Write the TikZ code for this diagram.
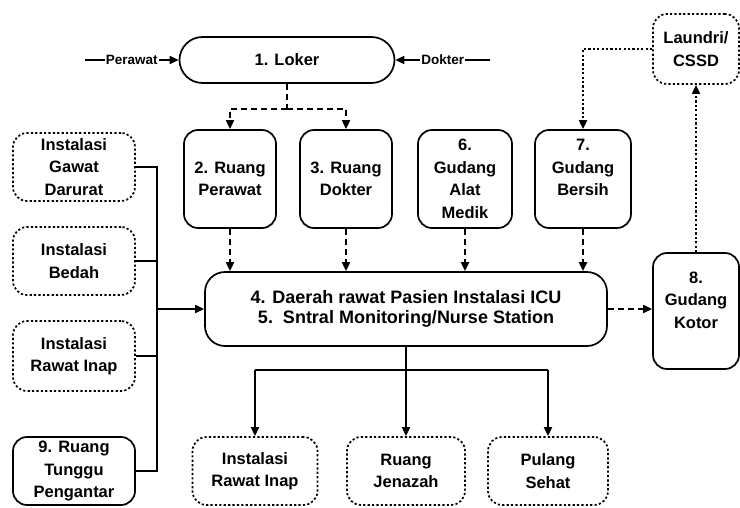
\documentclass[tikz,border=0pt]{standalone}
\usepackage{fontspec}
\setmainfont{Liberation Sans}
\usetikzlibrary{arrows.meta}

\begin{document}
\begin{tikzpicture}[x=1pt,y=-1pt,
  box/.style={draw, line width=1.7pt, rounded corners=14pt, align=center,
    font=\bfseries\fontsize{16.5}{22.5}\selectfont, inner sep=0pt},
  dotbox/.style={box, dash pattern=on 2.2pt off 2.2pt},
  link/.style={line width=1.8pt, line join=miter},
  dline/.style={link, dash pattern=on 6pt off 4pt},
  dotline/.style={link, dash pattern=on 2.2pt off 2.2pt},
  tip/.style={-{Triangle[length=9pt,width=8pt]}},
  side/.style={fill=white, inner sep=1pt, font=\bfseries\fontsize{13.5}{15}\selectfont}]
\useasboundingbox (0,0) rectangle (740,508);

% main rooms
\node[box, minimum width=215, minimum height=46, rounded corners=23pt] (loker) at (287,60) {1. Loker};
\node[box, minimum width=92, minimum height=98] (rp) at (230,179) {2. Ruang\\Perawat};
\node[box, minimum width=92, minimum height=98] (rd) at (346,179) {3. Ruang\\Dokter};
\node[box, minimum width=94, minimum height=98] (gam) at (465,179) {6.\\Gudang\\Alat\\Medik};
\node[box, minimum width=96, minimum height=98] (gb) at (583,179) {7.\\Gudang\\Bersih\\\mbox{}};
\node[box, minimum width=402, minimum height=74, rounded corners=20pt,
  font=\bfseries\fontsize{18}{20.5}\selectfont] (icu) at (406,309)
  {4. Daerah rawat Pasien Instalasi ICU\\5.\ \ Sntral Monitoring/Nurse Station};
\node[box, minimum width=86, minimum height=116] (gk) at (696,311) {8.\\Gudang\\Kotor\\\mbox{}};
\node[dotbox, minimum width=86, minimum height=70] (lc) at (696,49) {Laundri/\\CSSD};

% units around the ICU
\node[dotbox, minimum width=122, minimum height=68] (igd) at (74,167) {Instalasi\\Gawat\\Darurat};
\node[dotbox, minimum width=122, minimum height=68] (ib) at (74,261) {Instalasi\\Bedah};
\node[dotbox, minimum width=122, minimum height=70] (iri) at (74,356) {Instalasi\\Rawat Inap};
\node[box, minimum width=122, minimum height=68] (rt) at (74,471) {9. Ruang\\Tunggu\\Pengantar};
\node[dotbox, minimum width=125, minimum height=68] (bri) at (255,471) {Instalasi\\Rawat Inap};
\node[dotbox, minimum width=118, minimum height=68] (rj) at (406,471) {Ruang\\Jenazah};
\node[dotbox, minimum width=120, minimum height=68] (ps) at (548,471) {Pulang\\Sehat};

% entrances to the locker
\coordinate (pw) at (85,60);
\coordinate (dk) at (490,60);
\draw[link, tip] (pw) -- node[side] {Perawat} (loker.west);
\draw[link, tip] (dk) -- node[side] {Dokter} (loker.east);

% locker to staff rooms
\draw[dline] (loker.south) -- ++(0,25) coordinate (lk);
\draw[dline, tip] (lk) -| (rp.north);
\draw[dline, tip] (lk) -| (rd.north);

% rooms to the care area
\foreach \r in {rp,rd,gam,gb}
  \draw[dline, tip] (\r.south) -- (\r.south |- icu.north);

% dirty / clean flow
\draw[dline, tip] (icu.east) -- (icu.east -| gk.west);
\draw[dotline, tip] (gk.north) -- (lc.south);
\draw[dotline, tip] (lc.west) -| (gb.north);

% incoming patients
\coordinate (bx) at (157,0);
\draw[link] (igd.east) -- (igd.east -| bx) -- (rt.east -| bx) -- (rt.east);
\draw[link] (ib.east) -- (ib.east -| bx);
\draw[link] (iri.east) -- (iri.east -| bx);
\draw[link, tip] (icu.west -| bx) -- (icu.west);

% outgoing patients
\coordinate (br) at (406,370);
\draw[link, tip] (icu.south) -- (rj.north);
\draw[link] (bri.north |- br) -- (ps.north |- br);
\draw[link, tip] (bri.north |- br) -- (bri.north);
\draw[link, tip] (ps.north |- br) -- (ps.north);
\end{tikzpicture}
\end{document}
